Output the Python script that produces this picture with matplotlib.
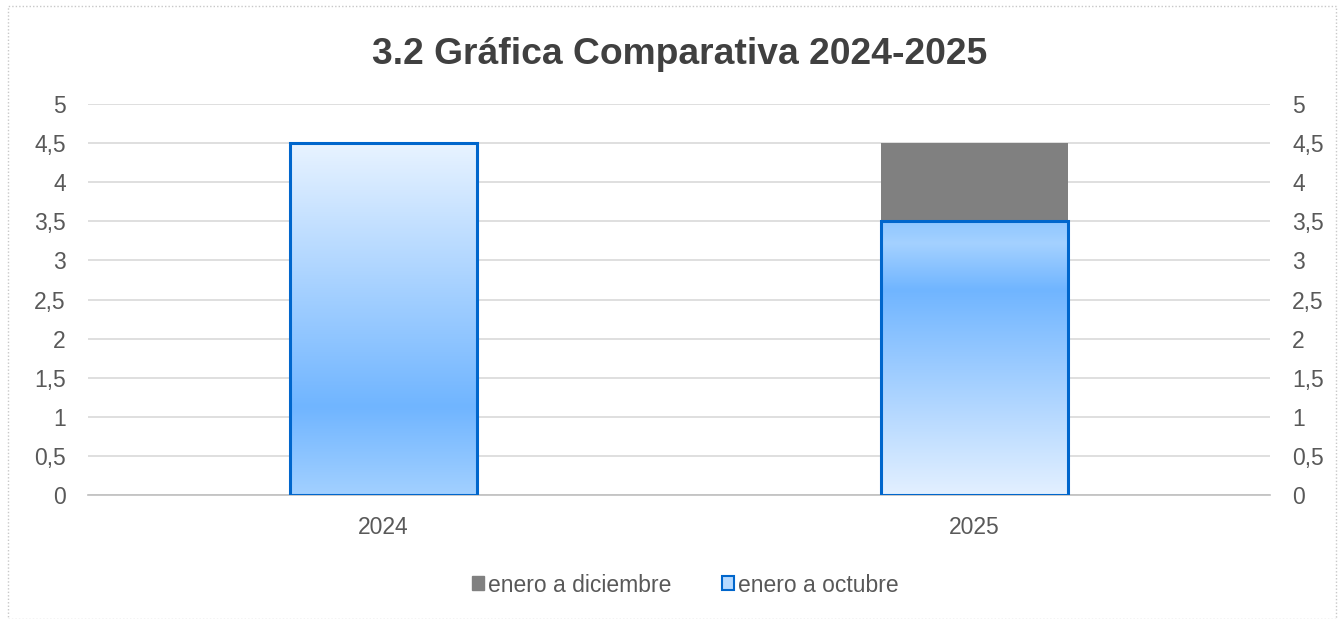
import numpy as np
import matplotlib
matplotlib.use('Agg')
import matplotlib.pyplot as plt
from matplotlib.colors import LinearSegmentedColormap
from matplotlib.patches import Patch, Rectangle

plt.rcParams['font.family'] = ['Liberation Sans', 'DejaVu Sans']

# datos
years = ['2024', '2025']
enero_octubre = [4.5, 3.5]
enero_diciembre = [4.5, 4.5]
yticks = [0, 0.5, 1, 1.5, 2, 2.5, 3, 3.5, 4, 4.5, 5]
ytick_labels = ['0', '0,5', '1', '1,5', '2', '2,5', '3', '3,5', '4', '4,5', '5']

# degradados (desde abajo hacia arriba) para cada barra azul
gradients = [
    [(0.0, '#a2d0ff'), (0.25, '#70b5ff'), (1.0, '#e8f3ff')],
    [(0.0, '#e3f0ff'), (0.75, '#70b5ff'), (0.92, '#a4d1ff'), (1.0, '#90c7ff')],
]

W, H = 1338, 619
fig = plt.figure(figsize=(W / 100, H / 100), dpi=100)
ax = fig.add_axes([88 / W, (H - 495) / H, (1270 - 88) / W, (495 - 104) / H])

x = np.arange(len(years))
width = 0.315

ax.set_xlim(-0.5, 1.5)
ax.set_ylim(0, 5)
ax.set_yticks(yticks)
ax.set_yticklabels(ytick_labels)
ax.set_xticks(x)
ax.set_xticklabels(years)
ax.grid(axis='y', color='#d9d9d9', lw=1.2)
ax.set_axisbelow(True)
for s in ['top', 'left', 'right']:
    ax.spines[s].set_visible(False)
ax.spines['bottom'].set_color('#bfbfbf')
ax.spines['bottom'].set_linewidth(1.2)
ax.tick_params(length=0, labelsize=16.5, colors='#595959')
ax.tick_params(axis='y', pad=16)
ax.tick_params(axis='x', pad=15)

# serie gris (detras)
ax.bar(x, enero_diciembre, width, color='#808080', zorder=2)

# serie azul con degradado
bars = ax.bar(x, enero_octubre, width, facecolor='none', edgecolor='#0066cc',
              lw=2.2, zorder=4)
for b, stops in zip(bars, gradients):
    cmap = LinearSegmentedColormap.from_list('g', stops)
    grad = np.linspace(0, 1, 256).reshape(-1, 1)
    x0, y0 = b.get_x(), b.get_y()
    im = ax.imshow(grad, cmap=cmap, origin='lower', aspect='auto',
                   extent=[x0, x0 + b.get_width(), y0, y0 + b.get_height()],
                   zorder=3)
    im.set_clip_path(b)
ax.set_xlim(-0.5, 1.5)
ax.set_ylim(0, 5)

# eje derecho
ax2 = ax.twinx()
ax2.set_ylim(0, 5)
ax2.set_yticks(yticks)
ax2.set_yticklabels(ytick_labels)
for s in ax2.spines.values():
    s.set_visible(False)
ax2.tick_params(length=0, labelsize=16.5, colors='#595959', pad=16)

fig.suptitle('3.2 Gráfica Comparativa 2024-2025', x=680 / W, y=1 - 54 / H, va='center',
             fontsize=26.8, fontweight='bold', color='#404040')

handles = [Patch(facecolor='#808080', edgecolor='#808080', label='enero a diciembre'),
           Patch(facecolor='#b5d9ff', edgecolor='#0066cc', lw=1.5, label='enero a octubre')]
fig.legend(handles=handles, loc='center', bbox_to_anchor=(685 / W, 1 - 585 / H),
           ncol=2, frameon=False, fontsize=16.5, handlelength=0.55, handleheight=0.55,
           handletextpad=0.15, columnspacing=2.2, labelcolor='#595959')

# borde punteado del area del grafico
fig.patches.append(Rectangle((8 / W, 0), 1 - 10 / W, 1 - 6 / H, transform=fig.transFigure,
                             fill=False, edgecolor='#c8c8c8', lw=1, ls=(0, (1, 1.5))))

fig.savefig('out.png', dpi=100)
